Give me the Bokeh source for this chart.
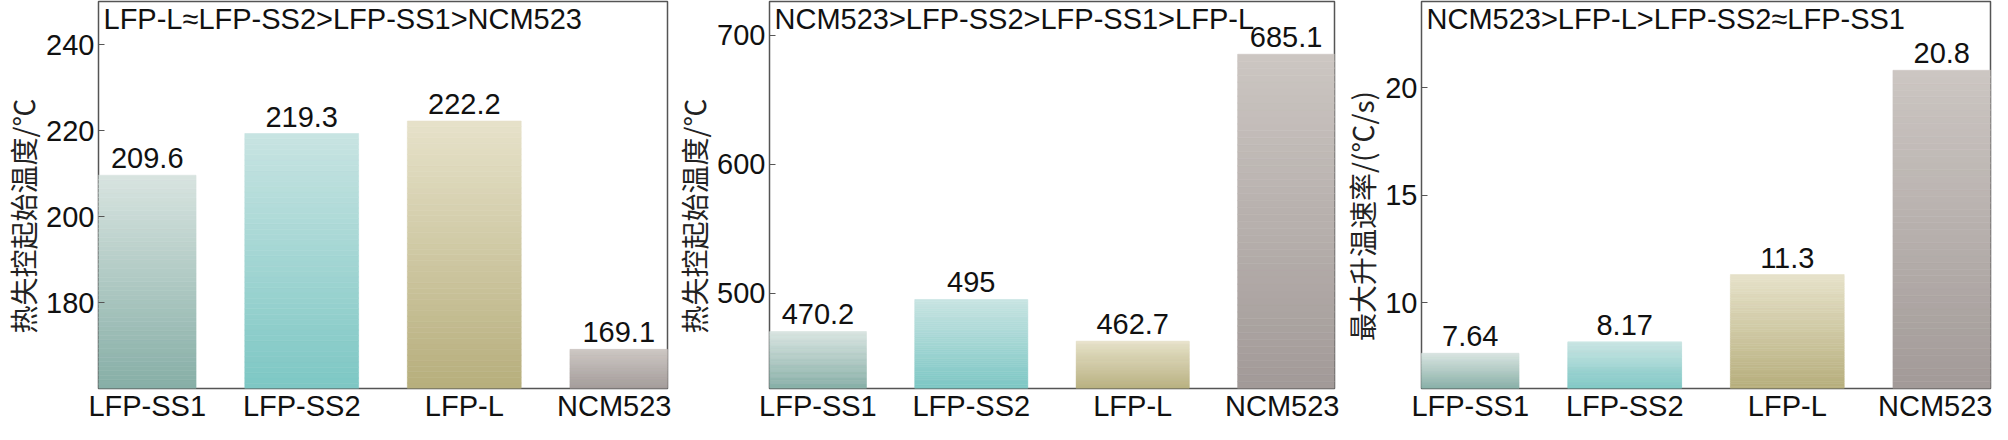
from bokeh.plotting import figure
from bokeh.models import Range1d, FixedTicker, Label, ColumnDataSource
from bokeh.layouts import row
from bokeh.embed import file_html
from bokeh.resources import INLINE
from bokeh.core.properties import value

# ---------------- data ----------------
categories = ["LFP-SS1", "LFP-SS2", "LFP-L", "NCM523"]
onset_temp = [209.6, 219.3, 222.2, 169.1]          # 热失控起始温度 (panel 1)
runaway_temp = [470.2, 495.0, 462.7, 685.1]        # panel 2
max_rate = [7.64, 8.17, 11.3, 20.8]                # 最大升温速率 (panel 3)
labels_1 = ["209.6", "219.3", "222.2", "169.1"]
labels_2 = ["470.2", "495", "462.7", "685.1"]
labels_3 = ["7.64", "8.17", "11.3", "20.8"]
titles = ["LFP-L≈LFP-SS2>LFP-SS1>NCM523",
          "NCM523>LFP-SS2>LFP-SS1>LFP-L",
          "NCM523>LFP-L>LFP-SS2≈LFP-SS1"]
ylabels = ["热失控起始温度/℃", "热失控起始温度/℃", "最大升温速率/(℃/s)"]
yticks_1 = [180, 200, 220, 240]
yticks_2 = [500, 600, 700]
yticks_3 = [10, 15, 20]

# ---------------- style ----------------
YRANGES = [(160, 250), (426, 726), (6, 24)]
XRANGE = (-0.25, 3.25)
BAR_W = 0.7
TOP_COLORS = [(216, 228, 224), (200, 228, 226), (230, 226, 202), (204, 198, 194)]
BOT_COLORS = [(134, 174, 166), (125, 199, 196), (183, 174, 124), (162, 154, 152)]
FONT = "Liberation Sans"
CJK = "Noto Sans CJK SC"
FS = "29px"
FRAME = "#555555"
N_SLICES = 48
LABEL_PAD = "\u3000\u2002"   # trailing blank so the rotated label sits a bit lower
H = 424


def hexc(c):
    return "#%02x%02x%02x" % tuple(int(round(v)) for v in c)


def make_panel(vals, texts, title, ylabel, ticks, yr, width, bl, br):
    p = figure(width=width, height=H, x_range=Range1d(*XRANGE), y_range=Range1d(*yr),
               output_backend="svg", toolbar_location=None,
               min_border_left=bl, min_border_right=br, min_border_top=1, min_border_bottom=34)
    p.xgrid.visible = False
    p.ygrid.visible = False
    p.outline_line_color = FRAME
    p.outline_line_width = 1.5
    p.background_fill_color = "white"
    p.border_fill_color = "white"

    lefts, rights, bottoms, tops, colors = [], [], [], [], []
    lo = yr[0]
    for i, v in enumerate(vals):
        for k in range(N_SLICES):
            b = lo + (v - lo) * k / N_SLICES
            t = lo + (v - lo) * (k + 1) / N_SLICES
            f = (k + 0.5) / N_SLICES
            c = [BOT_COLORS[i][j] + (TOP_COLORS[i][j] - BOT_COLORS[i][j]) * f for j in range(3)]
            lefts.append(i - BAR_W / 2)
            rights.append(i + BAR_W / 2)
            bottoms.append(b)
            tops.append(t)
            colors.append(hexc(c))
    src = ColumnDataSource(dict(left=lefts, right=rights, bottom=bottoms, top=tops, color=colors))
    p.quad(left="left", right="right", bottom="bottom", top="top", fill_color="color",
           line_color="color", line_width=0.6, source=src)

    # visible centre of each bar (first/last bars are cut by the frame)
    xc = [round((max(i - BAR_W / 2, XRANGE[0]) + min(i + BAR_W / 2, XRANGE[1])) / 2, 3)
          for i in range(len(categories))]

    p.text(x=xc, y=vals, text=texts, text_align="center", text_baseline="middle",
           y_offset=-17, text_font=value(FONT), text_font_size=value(FS), text_color="#111111")

    p.add_layout(Label(x=XRANGE[0], y=yr[1], x_offset=5, y_offset=-1, text=title,
                       text_baseline="top", text_align="left", text_font=FONT,
                       text_font_size=FS, text_color="#111111"))

    # y axis
    ya = p.yaxis[0]
    ya.ticker = FixedTicker(ticks=ticks)
    ya.major_label_text_font = FONT
    ya.major_label_text_font_size = FS
    ya.major_label_text_color = "#111111"
    ya.major_tick_in = 6
    ya.major_tick_out = 0
    ya.major_tick_line_color = FRAME
    ya.minor_tick_line_color = None
    ya.axis_line_color = None
    ya.major_label_standoff = 4
    ya.axis_label = ylabel + LABEL_PAD
    ya.axis_label_text_font = CJK
    ya.axis_label_text_font_size = "28px"
    ya.axis_label_text_font_style = "normal"
    ya.axis_label_text_color = "#222222"
    ya.axis_label_standoff = 0

    # x axis
    xa = p.xaxis[0]
    xa.ticker = FixedTicker(ticks=xc)
    xa.major_label_overrides = {xc[i]: categories[i] for i in range(len(categories))}
    xa.major_label_text_font = FONT
    xa.major_label_text_font_size = FS
    xa.major_label_text_color = "#111111"
    xa.major_tick_in = 0
    xa.major_tick_out = 0
    xa.minor_tick_line_color = None
    xa.axis_line_color = None
    xa.major_label_standoff = 1
    return p


p1 = make_panel(onset_temp, labels_1, titles[0], ylabels[0], yticks_1, YRANGES[0], 671, 92, 4)
p2 = make_panel(runaway_temp, labels_2, titles[1], ylabels[1], yticks_2, YRANGES[1], 668, 89, 5)
p3 = make_panel(max_rate, labels_3, titles[2], ylabels[2], yticks_3, YRANGES[2], 653, 74, 2)

layout = row(p1, p2, p3, spacing=0)
open("out.html", "w").write(file_html(layout, INLINE))
